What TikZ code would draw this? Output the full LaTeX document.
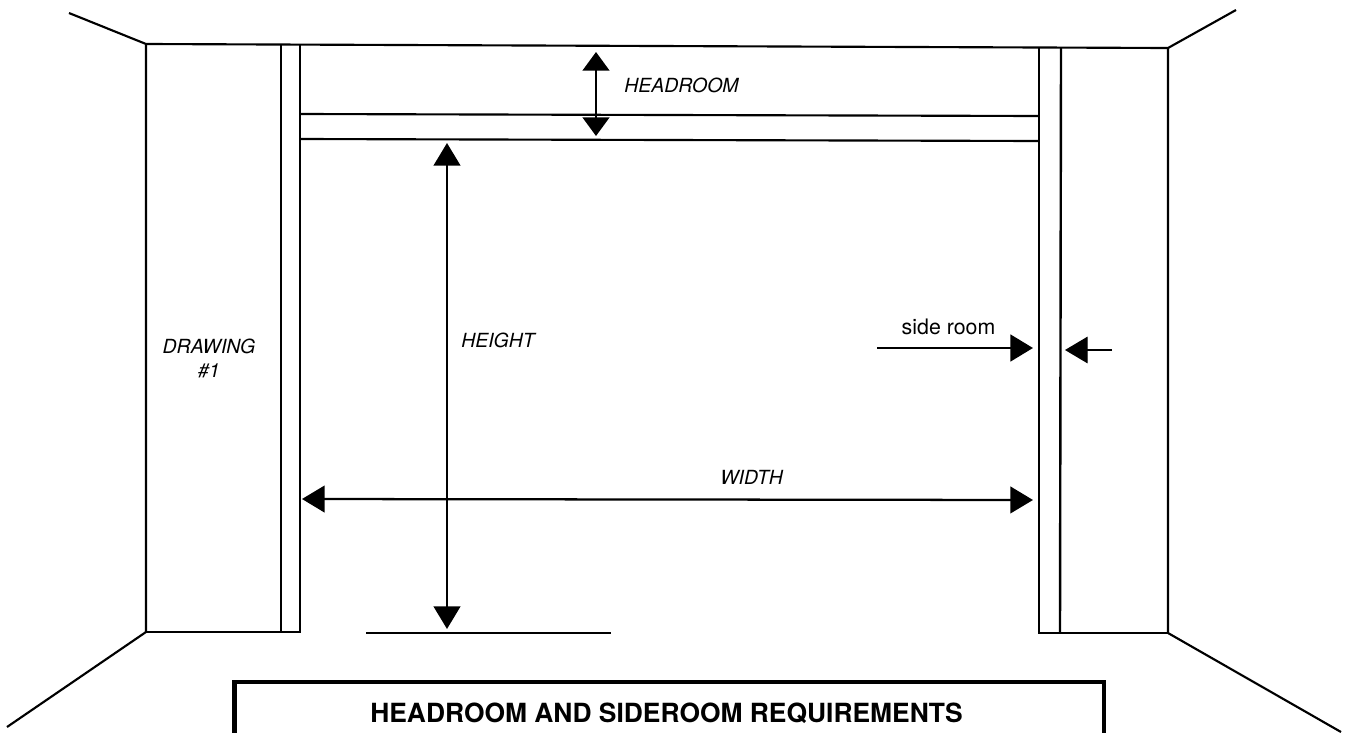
\documentclass[tikz,border=0pt]{standalone}
\usepackage{fontspec}
\setmainfont{TeX Gyre Heros}
\usetikzlibrary{arrows.meta}
\tikzset{
  wall/.style={line width=1.6pt},
  dimline/.style={line width=1.7pt,{Triangle[length=17pt,width=20pt]}-{Triangle[length=17pt,width=20pt]}},
  sidearrow/.style={-{Triangle[length=17pt,width=20pt]}},
  dimlabel/.style={font=\fontsize{14.6pt}{18pt}\selectfont\itshape,inner sep=0pt,align=center},
}
\begin{document}
\begin{tikzpicture}[x=0.75pt,y=0.75pt,yscale=-1,xscale=1]
\useasboundingbox (0,0) rectangle (1346,732);

%Room corners
\coordinate (tl) at (146,44);
\coordinate (tr) at (1168,48);
\coordinate (bl) at (146,632);
\coordinate (br) at (1168,633);
\coordinate (tlout) at (69,13);
\coordinate (trout) at (1236,10);
\coordinate (blout) at (7,727);
\coordinate (brout) at (1341,732);

%Outer walls
\draw [wall] (tlout) -- (tl) -- (tr) -- (trout);
\draw [wall] (blout) -- (bl) -- (tl);
\draw [wall] (brout) -- (br) -- (tr);

%Door jambs
\draw [wall] (281,44) -- (281,632);
\draw [wall] (bl) -- (300,632) -- (300,45);
\draw [wall] (1039,47) -- (1039,633) -- (br);
\draw [line width=1.8pt] (1061,48) -- (1060,633);

%Header
\draw [wall] (300,114) -- (1039,116);
\draw [wall] (300,139) -- (1039,141);

%Floor line
\draw [line width=1.8pt] (366,633) -- (611,633);

%Headroom arrow
\coordinate (headtop) at (596,52);
\coordinate (headbot) at (596,136);
\draw [line width=1.9pt,{Triangle[length=14pt,width=20pt]}-{Triangle[length=14pt,width=20pt]}] (headtop) -- (headbot);
\node [dimlabel,anchor=west] (headroom) at (624,85) {HEADROOM};

%Height arrow
\coordinate (hgttop) at (447,143);
\coordinate (hgtbot) at (447,629);
\draw [dimline] (hgttop) -- (hgtbot);
\node [dimlabel,anchor=west] (height) at (461,340) {HEIGHT};

%Width arrow
\coordinate (wdleft) at (302,499);
\coordinate (wdright) at (1033,500);
\draw [dimline] (wdleft) -- (wdright);
\node [dimlabel,anchor=west] (width) at (720,477) {WIDTH};

%Side room arrows
\coordinate (sideatail) at (877,348);
\coordinate (sideatip) at (1033,348);
\coordinate (sidebtail) at (1112,350);
\coordinate (sidebtip) at (1065,350);
\draw [line width=2.2pt,sidearrow] (sideatail) -- (sideatip);
\draw [line width=0.9pt,sidearrow] (sidebtail) -- (sidebtip);
\node [font=\fontsize{16pt}{18pt}\selectfont,inner sep=0pt] (sideroom) at (948.5,327) {side room};

%Drawing label
\node [dimlabel] (drawing) at (209,358) {DRAWING\\\#1};

%Title box
\draw [line width=3.4pt] (234.5,740) -- (234.5,682) -- (1104,682) -- (1104,740);
\node [font=\fontsize{19.8pt}{22pt}\selectfont\bfseries,inner sep=0pt] (title) at (666.5,713) {HEADROOM AND SIDEROOM REQUIREMENTS};
\end{tikzpicture}
\end{document}
